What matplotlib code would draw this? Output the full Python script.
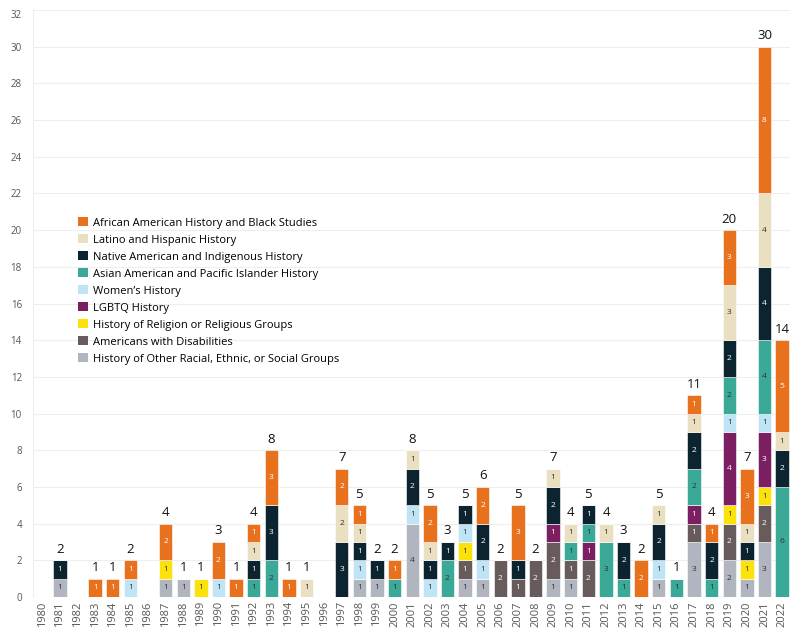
import numpy as np
import matplotlib.pyplot as plt
from matplotlib.patches import Patch

plt.rcParams['font.family'] = ['Open Sans', 'DejaVu Sans']

years = list(range(1980, 2023))

# 数据: 每个类别按年份 1980-2022
other =        [0,1,0,0,0,0,0,1,1,0,0,0,0,0,0,0,0,0,1,1,0,4,0,0,1,1,0,0,0,1,1,0,0,0,0,1,0,3,0,2,1,3,0]
disabilities = [0,0,0,0,0,0,0,0,0,0,0,0,0,0,0,0,0,0,0,0,0,0,0,0,1,0,2,1,2,2,1,2,0,0,0,0,0,1,0,2,0,2,0]
religion =     [0,0,0,0,0,0,0,1,0,1,0,0,0,0,0,0,0,0,0,0,0,0,0,0,1,0,0,0,0,0,0,0,0,0,0,0,0,0,0,1,1,1,0]
lgbtq =        [0,0,0,0,0,0,0,0,0,0,0,0,0,0,0,0,0,0,0,0,0,0,0,0,0,0,0,0,0,1,0,1,0,0,0,0,0,1,0,4,0,3,0]
women =        [0,0,0,0,0,1,0,0,0,0,1,0,0,0,0,0,0,0,1,0,0,1,1,0,1,1,0,0,0,0,0,0,0,0,0,1,0,0,0,1,0,1,0]
asian =        [0,0,0,0,0,0,0,0,0,0,0,0,1,2,0,0,0,0,0,0,1,0,0,2,0,0,0,0,0,0,1,1,3,1,0,0,1,2,1,2,0,4,6]
native =       [0,1,0,0,0,0,0,0,0,0,0,0,1,3,0,0,0,3,1,1,0,2,1,1,1,2,0,1,0,2,0,1,0,2,0,2,0,2,2,2,1,4,2]
latino =       [0,0,0,0,0,0,0,0,0,0,0,0,1,0,0,1,0,2,1,0,0,1,1,0,0,0,0,0,0,1,1,0,1,0,0,1,0,1,0,3,1,4,1]
african =      [0,0,0,1,1,1,0,2,0,0,2,1,1,3,1,0,0,2,1,0,1,0,2,0,0,2,0,3,0,0,0,0,0,0,2,0,0,1,1,3,3,8,5]

# 自下而上的堆叠顺序
series = [
    ("History of Other Racial, Ethnic, or Social Groups", other, "#b1b5bf", "#333333"),
    ("Americans with Disabilities", disabilities, "#675c5b", "white"),
    ("History of Religion or Religious Groups", religion, "#fbe20a", "#333333"),
    ("LGBTQ History", lgbtq, "#7c1f62", "white"),
    ("Women\u2019s History", women, "#bfe4f6", "#333333"),
    ("Asian American and Pacific Islander History", asian, "#3aa998", "#333333"),
    ("Native American and Indigenous History", native, "#0c2330", "white"),
    ("Latino and Hispanic History", latino, "#eadfc1", "#333333"),
    ("African American History and Black Studies", african, "#e8711e", "white"),
]

fig = plt.figure(figsize=(8, 6.31), dpi=100)
ax = fig.add_axes([33/800, 1-597/631, (790-33)/800, 587/631])

x = np.array(years)
bottom = np.zeros(len(years))
for name, vals, color, tcolor in series:
    vals = np.array(vals)
    ax.bar(x, vals, bottom=bottom, width=0.76, color=color, edgecolor='white', linewidth=0.4, zorder=2)
    for xi, b, v in zip(x, bottom, vals):
        if v > 0:
            ax.text(xi, b + v/2, str(v), ha='center', va='center', fontsize=6, color=tcolor, zorder=3)
    bottom += vals

for xi, t in zip(x, bottom):
    if t > 0:
        ax.text(xi, t + 0.25, str(int(t)), ha='center', va='bottom', fontsize=9.5,
                color='#111111', fontweight='medium')

ax.set_xlim(1979.47, 2022.45)
ax.set_ylim(0, 32)
ax.set_yticks(range(0, 33, 2))
ax.set_xticks(years)
ax.set_xticklabels([str(y) for y in years], rotation=90, fontsize=8, color='#555555')
ax.tick_params(axis='y', labelsize=7, labelcolor='#555555', length=0, pad=8)
ax.tick_params(axis='x', length=0, pad=3)
ax.get_yticklabels()[-1].set_va('top')
ax.grid(axis='y', color='#eeeeee', linewidth=0.8, zorder=0)
ax.set_axisbelow(True)
for s in ['top', 'right', 'bottom']:
    ax.spines[s].set_visible(False)
ax.spines['left'].set_color('#eeeeee')

handles = [Patch(facecolor=c, label=n) for n, v, c, t in series[::-1]]
ax.legend(handles=handles, loc='upper left', bbox_to_anchor=(0.059, 0.647), frameon=False,
          fontsize=8, handlelength=0.9, handleheight=0.9, handletextpad=0.5,
          labelspacing=0.5, borderpad=0, borderaxespad=0)

fig.savefig('out.png', dpi=100)
